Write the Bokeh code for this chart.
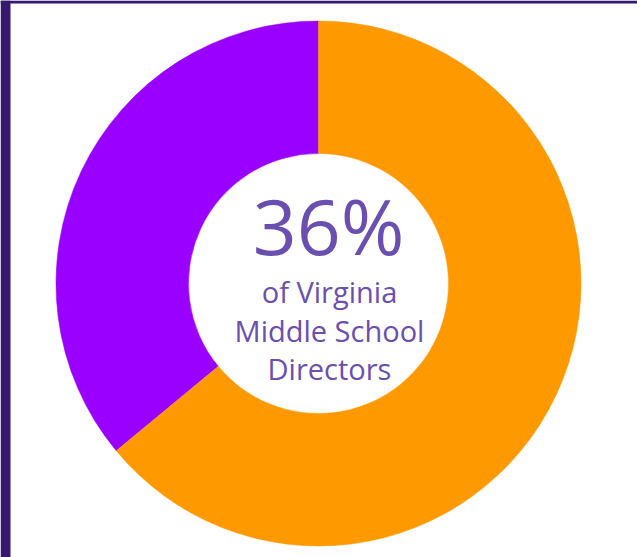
import numpy as np
from bokeh.plotting import figure
from bokeh.models import Range1d, BoxAnnotation, ColumnDataSource
from bokeh.core.properties import value
from bokeh.embed import file_html
from bokeh.resources import INLINE

# Data
categories = ["Yes", "No"]
shares = [36, 64]
colors = ["#9900ff", "#ff9900"]
headline = "36%"
caption_lines = ["of Virginia", "Middle School", "Directors"]

W, H = 637, 557
p = figure(width=W, height=H, output_backend="svg", toolbar_location=None,
           x_range=Range1d(0, W), y_range=Range1d(0, H),
           min_border=0, outline_line_color=None, background_fill_color="white",
           border_fill_color="white")
p.axis.visible = False
p.grid.visible = False

# frame borders
p.add_layout(BoxAnnotation(left=0, right=10, bottom=0, top=H, fill_color="#36196f",
                           fill_alpha=1, line_color=None))
p.add_layout(BoxAnnotation(left=0, right=W, bottom=H - 3, top=H, fill_color="#36196f",
                           fill_alpha=1, line_color=None))

frac = np.array(shares, dtype=float) / sum(shares)
ends = np.pi / 2 + np.cumsum(frac) * 2 * np.pi
starts = np.concatenate([[np.pi / 2], ends[:-1]])
src = ColumnDataSource(dict(cat=categories, start=starts, end=ends, color=colors))

cx, cy = 318, H - 283
p.annular_wedge(x=cx, y=cy, inner_radius=130, outer_radius=262.5,
                start_angle="start", end_angle="end", direction="anticlock",
                fill_color="color", line_color="color", line_width=0.5, source=src)

tcol = "#6a4fb0"
p.text(x=[328], y=[H - 255 + 30], text=[headline], text_font=value("Open Sans"),
       text_font_size="77px", text_align="center", text_baseline="alphabetic",
       text_color=tcol)
p.text(x=[329] * 3, y=[H - 303 + 12, H - 342 + 12, H - 380 + 12], text=caption_lines,
       text_font=value("Open Sans"), text_font_size="29px", text_align="center",
       text_baseline="alphabetic", text_color=tcol)

open("out.html", "w").write(file_html(p, INLINE))
